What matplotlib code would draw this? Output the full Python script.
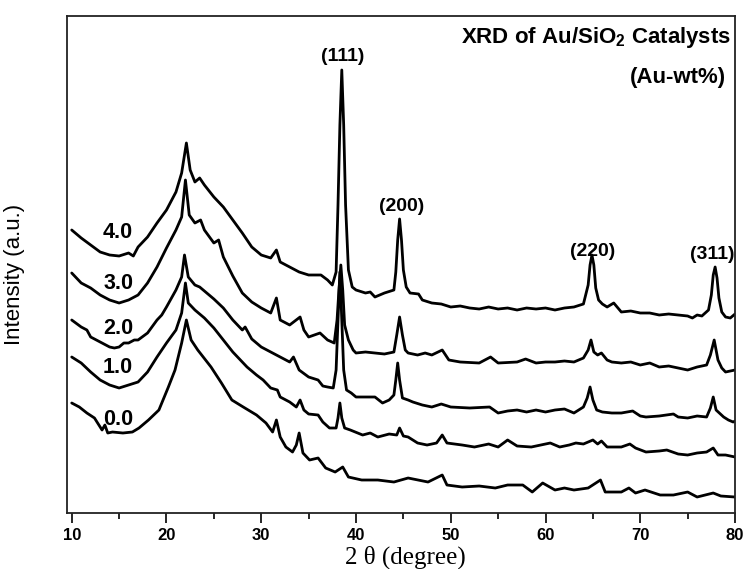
import matplotlib
matplotlib.use("Agg")
import matplotlib.pyplot as plt
from matplotlib.ticker import MultipleLocator

plt.rcParams['font.family'] = ['Liberation Sans', 'DejaVu Sans']
plt.rcParams['mathtext.fontset'] = 'custom'
plt.rcParams['mathtext.rm'] = 'Liberation Sans'
plt.rcParams['mathtext.bf'] = 'Liberation Sans:bold'

# XRD patterns (2theta in degree, intensity in a.u., curves already stacked)
x_40 = [10, 11, 12, 13, 14, 15, 16, 16.5, 17, 18, 19, 20, 21, 21.6, 22.1, 22.5, 23, 23.5, 24, 25, 26, 27, 28, 29, 30, 31,
        31.6, 32, 33, 34, 35, 36.3, 37, 37.5, 37.9, 38.1, 38.3, 38.5, 38.7, 38.9, 39.2, 39.6, 40, 41, 41.5, 42, 43, 44,
        44.2, 44.4, 44.6, 44.8, 45.0, 45.3, 45.7, 46.6, 47, 48, 49, 50, 51, 52, 53, 54, 55, 56, 57, 58, 59, 60, 61, 62,
        63, 64, 64.5, 64.7, 64.9, 65.1, 65.3, 65.6, 66, 66.5, 67.2, 68, 69, 70, 71, 72, 73, 74, 75, 75.5, 76, 76.5,
        77.2, 77.5, 77.7, 77.9, 78.1, 78.3, 78.6, 79, 79.5, 80]
y_40 = [283, 275, 268, 261, 258, 257, 260, 257, 266, 276, 290, 303, 321, 340, 370, 343, 331, 335, 328, 316, 306, 293, 280,
        266, 258, 255, 263, 251, 246, 241, 238, 238, 233, 228, 241, 308, 388, 443, 388, 308, 243, 226, 223, 220, 221,
        216, 220, 223, 241, 273, 294, 273, 243, 226, 220, 219, 213, 210, 209, 206, 207, 205, 204, 206, 204, 205, 203,
        205, 204, 205, 203, 205, 206, 209, 228, 248, 258, 248, 225, 213, 209, 206, 210, 201, 202, 200, 200, 198, 199,
        198, 197, 195, 198, 197, 203, 218, 238, 246, 235, 215, 201, 196, 195, 199]

x_30 = [10, 11, 12, 13, 14, 15, 16, 17, 18, 19, 20, 21, 21.6, 22.0, 22.4, 23, 23.6, 24, 25, 25.5, 26, 27, 28, 29, 30, 31,
        31.6, 32, 33, 34.1, 34.5, 35, 36.2, 37, 37.7, 38.0, 38.2, 38.4, 38.6, 38.8, 39.2, 39.7, 40, 41, 42, 43, 44,
        44.3, 44.6, 44.9, 45.2, 45.5, 46.5, 47.3, 48, 49.1, 49.8, 51, 53, 54.2, 55, 57, 57.9, 59, 60, 61, 62, 63, 64,
        64.5, 64.8, 65.1, 65.5, 65.9, 66.5, 67, 68, 69, 70, 71, 72, 73, 74, 75, 76, 77, 77.4, 77.8, 78.2, 78.6, 79,
        79.5, 80]
y_30 = [240, 230, 225, 218, 213, 210, 213, 218, 230, 246, 265, 283, 296, 333, 298, 290, 293, 283, 270, 273, 256, 237,
        220, 211, 205, 200, 215, 193, 188, 196, 183, 176, 180, 173, 170, 193, 223, 248, 223, 188, 173, 163, 160, 161,
        160, 159, 161, 178, 196, 178, 163, 160, 158, 160, 158, 163, 153, 151, 150, 156, 150, 151, 154, 150, 151, 151,
        152, 151, 155, 163, 173, 161, 158, 160, 153, 151, 150, 151, 148, 150, 146, 147, 145, 143, 146, 148, 158, 173,
        153, 145, 141, 142, 143]

x_20 = [10, 11, 11.6, 12, 13, 14, 14.5, 15, 15.5, 16, 16.6, 17, 18, 19, 19.5, 20, 21, 21.6, 21.9, 22.3, 23, 23.5, 24,
        25, 26, 27, 28, 28.3, 29, 30, 31, 32, 33, 33.4, 34, 35, 36, 36.5, 37, 37.6, 37.9, 38.1, 38.3, 38.5, 38.7, 39,
        39.5, 40, 41, 42, 42.8, 43.5, 44, 44.2, 44.4, 44.6, 44.9, 45.5, 46, 47, 48, 49, 50, 52, 54.1, 55, 56, 57, 58,
        59, 60, 61, 62, 63, 64, 64.4, 64.7, 65.0, 65.4, 66, 67, 68, 69.2, 70, 70.6, 72, 73.5, 74, 75, 76, 77, 77.4,
        77.7, 78, 78.8, 79.3, 79.8, 80]
y_20 = [193, 186, 183, 176, 171, 166, 165, 166, 170, 170, 173, 173, 180, 193, 198, 206, 223, 236, 258, 236, 228, 226,
        222, 214, 205, 193, 183, 186, 174, 166, 161, 156, 151, 156, 143, 136, 133, 127, 126, 125, 143, 193, 241, 193,
        143, 123, 120, 116, 116, 116, 110, 113, 118, 133, 150, 133, 115, 113, 111, 108, 106, 109, 106, 105, 106, 100,
        102, 103, 101, 103, 101, 103, 104, 100, 106, 115, 126, 113, 103, 101, 100, 100, 102, 97, 96, 97, 99, 96, 95,
        97, 96, 105, 116, 103, 96, 93, 91, 92]

x_10 = [10, 11, 12, 13, 14, 15, 16, 17, 18, 19, 20, 21, 21.6, 22.0, 22.3, 23, 24, 25, 26, 27, 28, 28.5, 29.5, 30.2, 31,
        31.7, 32, 33, 33.7, 34.1, 34.5, 35, 36, 36.5, 37.2, 37.9, 38.1, 38.3, 38.5, 38.8, 39.4, 40.7, 41.5, 42.3, 43.5,
        44.3, 44.6, 45, 45.5, 46.5, 47.5, 48.5, 49.1, 49.6, 51.2, 52.5, 54, 55, 56, 57, 58.5, 60.5, 61.5, 62.5, 63.2,
        64, 65, 65.5, 65.9, 66.5, 68, 68.9, 69.5, 70.6, 72, 72.8, 74, 75, 76, 77, 77.7, 78.2, 79, 80]
y_10 = [156, 150, 141, 133, 128, 125, 128, 131, 141, 156, 170, 183, 200, 230, 210, 203, 195, 185, 173, 161, 151, 146,
        138, 133, 125, 123, 116, 111, 106, 113, 103, 99, 98, 91, 85, 85, 95, 110, 95, 85, 83, 78, 80, 76, 79, 78, 85,
        77, 76, 70, 68, 70, 78, 70, 68, 66, 69, 66, 73, 67, 66, 70, 66, 68, 70, 69, 73, 69, 72, 66, 66, 69, 65, 61,
        62, 63, 59, 58, 60, 61, 65, 58, 58, 56]

x_00 = [10, 10.8, 11.6, 12.4, 13.2, 13.5, 13.8, 14.3, 15.4, 16.4, 17.1, 18.1, 19.2, 20.2, 20.9, 21.6, 22.1, 22.6, 23.3,
        24.7, 25.8, 26.9, 28.1, 29.5, 30.5, 31.2, 31.6, 32, 32.6, 33.3, 33.7, 34.0, 34.4, 35.1, 36, 36.8, 37.8, 38.6,
        39.2, 40.6, 42.3, 44, 45.5, 47.6, 49.1, 49.6, 51.2, 53, 54.7, 56, 57.6, 58.6, 59.7, 61, 62, 63, 64.5, 65.8,
        66.3, 68, 68.8, 69.5, 70.5, 72.1, 73.5, 75, 76, 77.7, 78.5, 80]
y_00 = [110, 106, 100, 95, 83, 88, 80, 81, 80, 81, 85, 93, 103, 126, 143, 170, 193, 173, 163, 146, 130, 113, 106, 98,
        90, 81, 93, 76, 66, 61, 68, 80, 60, 53, 55, 45, 41, 46, 36, 33, 33, 31, 35, 31, 38, 28, 26, 27, 25, 28, 28,
        21, 30, 23, 25, 23, 25, 33, 21, 21, 25, 20, 23, 18, 18, 21, 16, 20, 17, 16]

curve_labels = ['4.0', '3.0', '2.0', '1.0', '0.0']
label_y = [280, 230, 185, 146, 94]
peak_names = ['(111)', '(200)', '(220)', '(311)']
peak_x = [38.6, 44.85, 65.0, 77.6]
peak_y = [456, 306, 261, 258]

fig = plt.figure(figsize=(7.46, 5.69), dpi=100)
ax = fig.add_axes([0.0898, 0.0984, 0.8955, 0.8735])

for xs, ys in [(x_40, y_40), (x_30, y_30), (x_20, y_20), (x_10, y_10), (x_00, y_00)]:
    ax.plot(xs, ys, color='black', lw=2.0, solid_joinstyle='round', solid_capstyle='round')

for lab, ly in zip(curve_labels, label_y):
    ax.text(14.9, ly, lab, fontsize=15.5, fontweight='bold', ha='center', va='center')

for name, px, py in zip(peak_names, peak_x, peak_y):
    ax.text(px, py, name, fontsize=14, fontweight='bold', ha='center', va='center')

ax.text(0.994, 0.956, r'XRD of Au/SiO$_{\mathbf{2}}$ Catalysts', transform=ax.transAxes,
        fontsize=16, fontweight='bold', ha='right', va='center')
ax.text(0.987, 0.877, '(Au-wt%)', transform=ax.transAxes,
        fontsize=16, fontweight='bold', ha='right', va='center')

ax.set_xlim(9.5, 80)
ax.set_ylim(0, 497)
ax.xaxis.set_major_locator(MultipleLocator(10))
ax.xaxis.set_minor_locator(MultipleLocator(5))
ax.tick_params(axis='x', which='major', direction='out', length=7, width=1.2, labelsize=12, pad=4)
ax.tick_params(axis='x', which='minor', direction='out', length=4, width=1.2)
for t in ax.get_xticklabels():
    t.set_fontweight('bold')
ax.set_yticks([])
for s in ax.spines.values():
    s.set_linewidth(1.3)
    s.set_color('#222222')

ax.set_xlabel('2 θ (degree)', fontsize=18, family=['Liberation Serif', 'DejaVu Serif'])
ax.xaxis.set_label_coords(0.506, -0.066)
ax.set_ylabel('Intensity (a.u.)', fontsize=16)
ax.yaxis.set_label_coords(-0.063, 0.48)

fig.savefig('out.png', dpi=100)
